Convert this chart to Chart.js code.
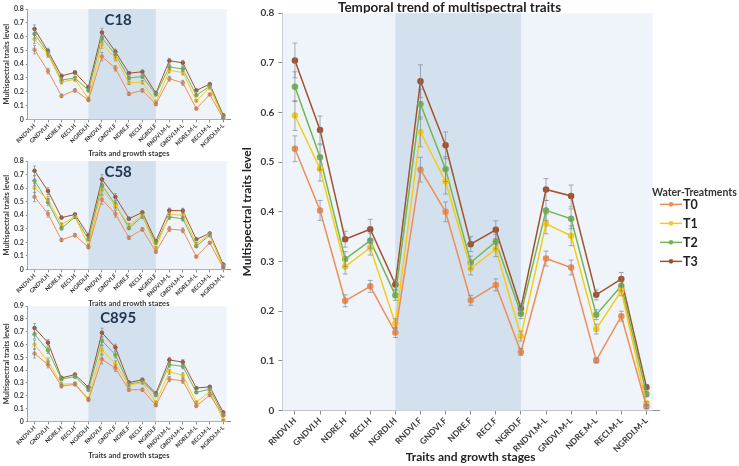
<!DOCTYPE html>
<html>
<head>
<meta charset="utf-8">
<script src="https://cdn.jsdelivr.net/npm/chart.js@4"></script>
<style>
  body { margin: 0; background: #fff; }
  #wrap { position: relative; width: 739px; height: 466px; overflow: hidden; }
  .box { position: absolute; }
</style>
</head>
<body>
<div id="wrap">
  <div class="box" style="left:0;top:0;width:238px;height:158px"><canvas id="c18"></canvas></div>
  <div class="box" style="left:0;top:151px;width:238px;height:157px"><canvas id="c58"></canvas></div>
  <div class="box" style="left:0;top:300px;width:238px;height:166px"><canvas id="c895"></canvas></div>
  <div class="box" style="left:236px;top:0;width:503px;height:466px"><canvas id="main"></canvas></div>
</div>
<script>
const traitLabels = ['RNDVI.H', 'GNDVI.H', 'NDRE.H', 'RECI.H', 'NGRDI.H',
  'RNDVI.F', 'GNDVI.F', 'NDRE.F', 'RECI.F', 'NGRDI.F',
  'RNDVI.M-L', 'GNDVI.M-L', 'NDRE.M-L', 'RECI.M-L', 'NGRDI.M-L'];
const treatments = ['T0', 'T1', 'T2', 'T3'];
const treatmentColors = ['#ee8d55', '#f5cb19', '#74b553', '#a0522d'];

// main chart, mean of all cultivars
const meanT0 = [0.527, 0.403, 0.221, 0.250, 0.157, 0.485, 0.400, 0.222, 0.253, 0.118, 0.306, 0.288, 0.101, 0.190, 0.008];
const meanT1 = [0.594, 0.487, 0.290, 0.328, 0.175, 0.561, 0.461, 0.286, 0.325, 0.150, 0.376, 0.352, 0.164, 0.241, 0.014];
const meanT2 = [0.652, 0.510, 0.305, 0.342, 0.232, 0.617, 0.486, 0.298, 0.340, 0.195, 0.403, 0.386, 0.193, 0.251, 0.033];
const meanT3 = [0.705, 0.565, 0.345, 0.365, 0.254, 0.663, 0.534, 0.335, 0.364, 0.206, 0.445, 0.432, 0.233, 0.265, 0.047];
const errT0 = [0.026, 0.020, 0.012, 0.012, 0.010, 0.025, 0.020, 0.010, 0.012, 0.007, 0.015, 0.015, 0.005, 0.010, 0.004];
const errT1 = [0.030, 0.025, 0.015, 0.015, 0.010, 0.030, 0.025, 0.013, 0.015, 0.010, 0.020, 0.020, 0.010, 0.010, 0.004];
const errT2 = [0.030, 0.025, 0.015, 0.015, 0.010, 0.030, 0.025, 0.013, 0.015, 0.010, 0.020, 0.020, 0.010, 0.010, 0.005];
const errT3 = [0.035, 0.028, 0.016, 0.020, 0.010, 0.033, 0.027, 0.015, 0.018, 0.010, 0.022, 0.022, 0.010, 0.013, 0.005];

// cultivar C18
const c18T0 = [0.505, 0.350, 0.170, 0.210, 0.140, 0.455, 0.370, 0.185, 0.210, 0.110, 0.295, 0.265, 0.078, 0.180, 0.005];
const c18T1 = [0.580, 0.470, 0.270, 0.290, 0.150, 0.545, 0.445, 0.265, 0.270, 0.125, 0.355, 0.340, 0.135, 0.230, 0.010];
const c18T2 = [0.620, 0.480, 0.285, 0.300, 0.210, 0.590, 0.470, 0.300, 0.310, 0.180, 0.380, 0.365, 0.175, 0.240, 0.020];
const c18T3 = [0.655, 0.495, 0.315, 0.340, 0.235, 0.630, 0.490, 0.335, 0.345, 0.190, 0.425, 0.410, 0.210, 0.255, 0.030];
const c18Err = [0.030, 0.020, 0.012, 0.012, 0.010, 0.030, 0.020, 0.012, 0.012, 0.008, 0.018, 0.018, 0.008, 0.008, 0.004];

// cultivar C58
const c58T0 = [0.535, 0.410, 0.217, 0.252, 0.163, 0.515, 0.410, 0.234, 0.295, 0.130, 0.298, 0.288, 0.094, 0.196, 0.010];
const c58T1 = [0.600, 0.515, 0.330, 0.390, 0.176, 0.585, 0.470, 0.325, 0.400, 0.158, 0.405, 0.400, 0.190, 0.257, 0.018];
const c58T2 = [0.655, 0.495, 0.303, 0.387, 0.222, 0.620, 0.480, 0.305, 0.390, 0.196, 0.387, 0.374, 0.171, 0.252, 0.025];
const c58T3 = [0.728, 0.578, 0.382, 0.405, 0.252, 0.665, 0.535, 0.374, 0.420, 0.209, 0.435, 0.433, 0.222, 0.265, 0.036];
const c58Err = [0.035, 0.025, 0.012, 0.012, 0.010, 0.035, 0.025, 0.012, 0.012, 0.008, 0.018, 0.018, 0.008, 0.008, 0.004];

// cultivar C895
const c895T0 = [0.530, 0.443, 0.275, 0.290, 0.168, 0.485, 0.415, 0.247, 0.247, 0.126, 0.330, 0.317, 0.120, 0.205, 0.045];
const c895T1 = [0.600, 0.470, 0.290, 0.295, 0.177, 0.560, 0.448, 0.283, 0.303, 0.149, 0.387, 0.360, 0.149, 0.233, 0.010];
const c895T2 = [0.680, 0.555, 0.330, 0.350, 0.247, 0.630, 0.520, 0.290, 0.310, 0.205, 0.443, 0.430, 0.227, 0.252, 0.050];
const c895T3 = [0.730, 0.615, 0.340, 0.365, 0.267, 0.693, 0.578, 0.303, 0.325, 0.219, 0.480, 0.463, 0.260, 0.270, 0.070];
const c895Err = [0.035, 0.025, 0.012, 0.012, 0.010, 0.035, 0.025, 0.012, 0.012, 0.008, 0.020, 0.020, 0.008, 0.008, 0.005];

const FONT = 'Lato, "Open Sans", sans-serif';
const TXT = '#3a3a3a';
const LIGHT_BG = '#eef4fa';
const DARK_BG = '#d3e0ee';

// flowering stage band: from the NGRDI.H point to the NGRDI.F point
const bandPlugin = {
  id: 'band',
  beforeDatasetsDraw(chart) {
    const { ctx, chartArea, scales } = chart;
    const x = scales.x;
    ctx.save();
    ctx.fillStyle = LIGHT_BG;
    const right = Math.min(chartArea.right, x.getPixelForValue(14.25));
    ctx.fillRect(chartArea.left, chartArea.top, right - chartArea.left, chartArea.bottom - chartArea.top);
    ctx.fillStyle = DARK_BG;
    const x0 = x.getPixelForValue(4);
    const x1 = x.getPixelForValue(9);
    ctx.fillRect(x0, chartArea.top, x1 - x0, chartArea.bottom - chartArea.top);
    const lbl = chart.options.plugins.band.label;
    if (lbl) {
      ctx.fillStyle = '#1f3550';
      ctx.font = 'bold ' + chart.options.plugins.band.size + 'px ' + FONT;
      ctx.textAlign = 'center';
      ctx.textBaseline = 'top';
      ctx.fillText(lbl, (x0 + x1) / 2 - 4, chartArea.top + 4);
    }
    ctx.restore();
  }
};

const errorBarPlugin = {
  id: 'errbars',
  afterDatasetsDraw(chart) {
    const { ctx, scales } = chart;
    const cap = chart.options.plugins.errbars.cap;
    ctx.save();
    ctx.strokeStyle = 'rgba(120,130,140,0.8)';
    ctx.lineWidth = 0.8;
    chart.data.datasets.forEach((ds, di) => {
      const meta = chart.getDatasetMeta(di);
      meta.data.forEach((pt, i) => {
        const e = ds.errors[i];
        const yTop = scales.y.getPixelForValue(ds.data[i] + e);
        const yBot = scales.y.getPixelForValue(ds.data[i] - e);
        ctx.beginPath();
        ctx.moveTo(pt.x, yTop); ctx.lineTo(pt.x, yBot);
        ctx.moveTo(pt.x - cap, yTop); ctx.lineTo(pt.x + cap, yTop);
        ctx.moveTo(pt.x - cap, yBot); ctx.lineTo(pt.x + cap, yBot);
        ctx.stroke();
      });
    });
    ctx.restore();
  }
};

// legend to the right of the plot: title, then line+dot and bold label per treatment
const sideLegendPlugin = {
  id: 'sideLegend',
  afterDraw(chart) {
    const opts = chart.options.plugins.sideLegend;
    if (!opts || !opts.show) return;
    const { ctx, chartArea } = chart;
    const cy = (chartArea.top + chartArea.bottom) / 2;
    const left = chartArea.right - 7;
    ctx.save();
    ctx.textBaseline = 'middle';
    ctx.textAlign = 'left';
    ctx.fillStyle = '#333';
    ctx.font = 'bold 10.5px ' + FONT;
    ctx.fillText('Water-Treatments', left, cy - 19.5);
    chart.data.datasets.forEach((ds, i) => {
      const y = cy - 7.5 + i * 19;
      ctx.strokeStyle = ds.borderColor;
      ctx.lineWidth = 1.5;
      ctx.beginPath();
      ctx.moveTo(left + 8, y); ctx.lineTo(left + 30, y);
      ctx.stroke();
      ctx.fillStyle = ds.borderColor;
      ctx.beginPath();
      ctx.arc(left + 19, y, 2.3, 0, Math.PI * 2);
      ctx.fill();
      ctx.fillStyle = '#222';
      ctx.font = 'bold 12.5px ' + FONT;
      ctx.fillText(ds.label, left + 31, y + 0.5);
    });
    ctx.restore();
  }
};

function makeDatasets(series, errs, lw, pr) {
  return series.map((vals, k) => ({
    label: treatments[k],
    data: vals,
    errors: errs[k],
    borderColor: treatmentColors[k],
    backgroundColor: treatmentColors[k],
    borderWidth: lw,
    pointRadius: pr,
    pointHoverRadius: pr,
    tension: 0
  }));
}

function smallChart(id, title, series, err, yMax, pad) {
  new Chart(document.getElementById(id), {
    type: 'line',
    data: { labels: traitLabels, datasets: makeDatasets(series, [err, err, err, err], 1, 1.8) },
    options: {
      responsive: true,
      maintainAspectRatio: false,
      animation: false,
      layout: { padding: pad },
      plugins: {
        legend: { display: false },
        tooltip: { enabled: false },
        band: { label: title, size: 15 },
        errbars: { cap: 1.5 }
      },
      scales: {
        x: {
          offset: true,
          grid: { display: true, drawOnChartArea: false, drawTicks: true, tickLength: 3, color: '#8c8c8c' },
          border: { color: '#8c8c8c' },
          ticks: { color: TXT, font: { family: FONT, size: 5.8, weight: 'bold' }, maxRotation: 45, minRotation: 45, autoSkip: false, padding: 0 },
          title: { display: true, text: 'Traits and growth stages', color: TXT, font: { family: FONT, size: 7.5, weight: 'bold' }, padding: { top: 0, bottom: 0 } }
        },
        y: {
          min: 0, max: yMax,
          grid: { display: true, drawOnChartArea: false, drawTicks: true, tickLength: 2, color: '#8c8c8c' },
          border: { color: '#8c8c8c' },
          ticks: { stepSize: 0.1, color: TXT, font: { family: FONT, size: 7, weight: 'bold' }, padding: 2,
            callback: v => (v === 0 ? '0' : v.toFixed(1)) },
          title: { display: true, text: 'Multispectral traits level', color: TXT, font: { family: FONT, size: 7.5, weight: 'bold' }, padding: { top: 0, bottom: 1 } }
        }
      }
    },
    plugins: [bandPlugin, errorBarPlugin]
  });
}

smallChart('c18', 'C18', [c18T0, c18T1, c18T2, c18T3], c18Err, 0.8, { top: 9, right: 8, left: 2, bottom: 0 });
smallChart('c58', 'C58', [c58T0, c58T1, c58T2, c58T3], c58Err, 0.8, { top: 10, right: 8, left: 2, bottom: 0 });
smallChart('c895', 'C895', [c895T0, c895T1, c895T2, c895T3], c895Err, 0.9, { top: 4, right: 8, left: 2, bottom: 6 });

new Chart(document.getElementById('main'), {
  type: 'line',
  data: { labels: traitLabels, datasets: makeDatasets([meanT0, meanT1, meanT2, meanT3], [errT0, errT1, errT2, errT3], 1.5, 2.5) },
  options: {
    responsive: true,
    maintainAspectRatio: false,
    animation: false,
    layout: { padding: { top: 0, right: 80, left: 4, bottom: 2 } },
    plugins: {
      title: { display: true, text: 'Temporal trend of multispectral traits', color: '#222', font: { family: FONT, size: 13.5, weight: 'bold' }, padding: { top: 0, bottom: -3 } },
      legend: { display: false },
      sideLegend: { show: true },
      tooltip: { enabled: false },
      band: { label: null },
      errbars: { cap: 2.5 }
    },
    scales: {
      x: {
        offset: true,
        afterFit: scale => { scale.height -= 8; },
        grid: { display: true, drawOnChartArea: false, drawTicks: true, tickLength: 4, color: '#8c8c8c' },
        border: { color: '#8c8c8c' },
        ticks: { color: TXT, font: { family: FONT, size: 8.5, weight: 'bold' }, maxRotation: 45, minRotation: 45, autoSkip: false, padding: 1 },
        title: { display: true, text: 'Traits and growth stages', color: '#222', font: { family: FONT, size: 12, weight: 'bold' }, padding: { top: 2, bottom: 0 } }
      },
      y: {
        min: 0, max: 0.8,
        grid: { display: true, drawOnChartArea: false, drawTicks: true, tickLength: 4, color: '#8c8c8c' },
        border: { color: '#8c8c8c' },
        ticks: { stepSize: 0.1, color: TXT, font: { family: FONT, size: 10, weight: 'bold' }, padding: 4,
          callback: v => (v === 0 ? '0' : v.toFixed(1)) },
        title: { display: true, text: 'Multispectral traits level', color: '#222', font: { family: FONT, size: 12, weight: 'bold' }, padding: { top: 0, bottom: 2 } }
      }
    }
  },
  plugins: [bandPlugin, errorBarPlugin, sideLegendPlugin]
});
</script>
</body>
</html>
